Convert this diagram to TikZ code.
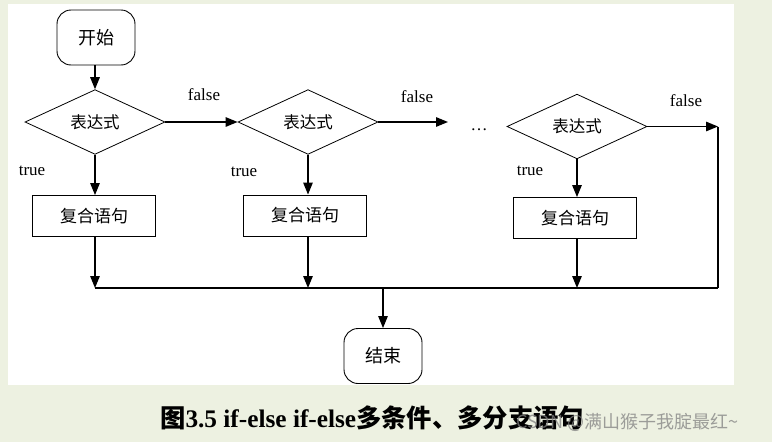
\documentclass[tikz,border=0pt]{standalone}
\usepackage{fontspec}
\setmainfont{Liberation Serif}
\newfontfamily\cjk{Noto Sans CJK SC}
\usetikzlibrary{arrows.meta,shapes.geometric}
\definecolor{bggreen}{HTML}{EDF1E1}
\begin{document}
\begin{tikzpicture}[x=1pt,y=-1pt,
  arr/.style={line width=1.3pt,-{Triangle[length=12pt,width=9.5pt]}},
  ln/.style={line width=1.1pt},
  term/.style={draw,line width=0.9pt,rounded corners=14pt,minimum width=78pt,minimum height=55pt,inner sep=0pt,font=\cjk\fontsize{18}{18}\selectfont},
  dec/.style={draw,diamond,line width=0.8pt,minimum width=140pt,minimum height=59pt,inner sep=0pt,font=\cjk\fontsize{16.5}{16.5}\selectfont},
  stmt/.style={draw,rectangle,line width=0.9pt,minimum width=123pt,minimum height=41pt,inner sep=0pt,font=\cjk\fontsize{17}{17}\selectfont},
  lbl/.style={font=\fontsize{17}{17}\selectfont,inner sep=0pt}
]
\useasboundingbox (0,0) rectangle (772,442);
\fill[bggreen] (0,0) rectangle (772,442);
\fill[white] (8,4) rectangle (734,385);

% nodes
\node[term] (start) at (96,37.5) {开始};
\node[dec] (d1) at (95,122) {表达式};
\node[dec] (d2) at (308,122) {表达式};
\node[dec] (d3) at (577,126.5) {表达式};
\node[stmt] (b1) at (94,216) {复合语句};
\node[stmt] (b2) at (305,215.5) {复合语句};
\node[stmt] (b3) at (575,218) {复合语句};
\node[term] (end) at (383,356) {结束};

\node[lbl] (f1) at (204,95) {false};
\node[lbl] (f2) at (417,97) {false};
\node[lbl] (f3) at (686,101) {false};
\node[lbl] (t1) at (32,171) {true};
\node[lbl] (t2) at (244,172) {true};
\node[lbl] (t3) at (530,171) {true};
\node[lbl,anchor=base] (dots) at (479,130) {…};

\coordinate (c2) at (448,122);
\coordinate (r) at (718,126.5);
\coordinate (rb) at (718,288);
\coordinate (m1) at (95,288);
\coordinate (m2) at (308,288);
\coordinate (m3) at (577,288);
\coordinate (mc) at (383,288);

% connectors
\draw[arr] (start.south -| d1.north) -- (d1.north);
\draw[arr] (d1.east) -- (d2.west);
\draw[arr] (d2.east) -- (c2);
\draw[arr] (d3.east) -- (r);
\draw[ln] (r) -- (rb);
\draw[ln] (m1) -- (rb);
\draw[arr] (d1.south) -- (d1.south |- b1.north);
\draw[arr] (d2.south) -- (d2.south |- b2.north);
\draw[arr] (d3.south) -- (d3.south |- b3.north);
\draw[arr] (b1.south -| m1) -- (m1);
\draw[arr] (b2.south -| m2) -- (m2);
\draw[arr] (b3.south -| m3) -- (m3);
\draw[arr] (mc) -- (end.north);

% caption
\node[anchor=base west,inner sep=0pt] (cap) at (160,427)
  {\fontsize{25.3}{25.3}\selectfont\bfseries{\cjk 图}3.5 if-else if-else{\cjk 多条件、多分支语句}};
\node[anchor=base west,inner sep=0pt,text=gray,text opacity=0.75] (wm) at (516,428)
  {\cjk\fontsize{18}{18}\selectfont CSDN @满山猴子我腚最红\textasciitilde};
\end{tikzpicture}
\end{document}
